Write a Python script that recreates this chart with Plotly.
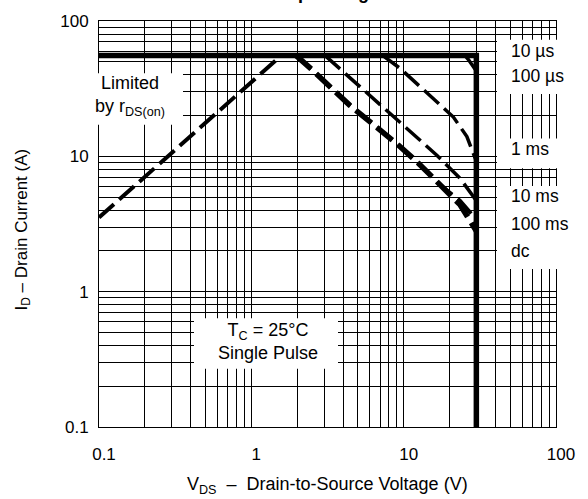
import plotly.graph_objects as go

# ---------------- data ----------------
x_tick_vals = [0.1, 1, 10, 100]
x_tick_text = ["0.1", "1", "10", "100"]
y_tick_vals = [0.1, 1, 10, 100]
y_tick_text = ["0.1", "1", "10", "100"]

rds_v = [0.1, 1.57]
rds_i = [3.53, 55.5]

us10_v = [0.1, 30, 30]
us10_i = [55.5, 55.5, 0.1]

us100_v = [25.3, 26.6, 30]
us100_i = [55.5, 51.9, 42.7]

ms1_v = [7.3, 9.47, 15.3, 21.2, 26.0, 30]
ms1_i = [55.5, 44.7, 27.3, 19.5, 14.0, 9.2]

ms10_v = [3.05, 5.73, 8.56, 11.9, 16.5, 23.4, 30]
ms10_i = [55.5, 29.6, 20.0, 14.3, 10.2, 6.9, 4.7]

ms100_v = [1.97, 2.49, 4.45, 6.49, 9.01, 12.5, 17.8, 23.4, 30]
ms100_i = [55.5, 43.9, 23.7, 16.9, 12.4, 8.9, 6.0, 4.7, 3.4]

dc_v = [1.97, 2.49, 4.45, 6.49, 9.01, 12.5, 17.8, 23.4, 30]
dc_i = [55.5, 43.9, 23.7, 16.9, 12.4, 8.9, 6.0, 4.4, 2.8]

curve_labels = ["10 \u00b5s", "100 \u00b5s", "1 ms", "10 ms", "100 ms", "dc"]

FONT = "Liberation Sans, Arial, Helvetica, sans-serif"

# minor log gridlines 2..9 in each decade
minor_vals = [k * 10 ** e for e in (-1, 0, 1) for k in range(2, 10)]

fig = go.Figure()

def add(v, i, width, dash):
    fig.add_trace(go.Scatter(x=v, y=i, mode="lines",
                             line=dict(color="black", width=width, dash=dash),
                             hoverinfo="skip", showlegend=False))

add(rds_v, rds_i, 4, "20px,7px")
add(dc_v, dc_i, 5.5, "20px,7px")
add(ms100_v, ms100_i, 4, "20px,7px")
add(ms10_v, ms10_i, 3.5, "20px,7px")
add(ms1_v, ms1_i, 3.5, "20px,7px")
add(us100_v, us100_i, 3.5, "20px,7px")
add(us10_v, us10_i, 5.5, "solid")

# plot area in pixels: x 99..556, y 16..427
L, R, T, B = 99, 556, 16, 427
W, H = R - L, B - T

def px(x):
    return (x - L) / W

def py(y):
    return (B - y) / H

# white label backgrounds covering the grid
boxes = [
    (497, 562, 35, 90),
    (497, 562, 135, 165),
    (497, 562, 183, 267),
    (86, 183, 69, 121),
    (194, 338, 317, 368),
]
for x0, x1, y0, y1 in boxes:
    fig.add_shape(type="rect", xref="paper", yref="paper",
                  x0=px(x0), x1=px(x1), y0=py(y1), y1=py(y0),
                  fillcolor="white", line=dict(width=0), layer="above")

label_y = [46, 72, 146, 193.5, 221, 248.5]
for lab, yy in zip(curve_labels, label_y):
    fig.add_annotation(text=lab, xref="paper", yref="paper",
                       x=px(509), y=py(yy), xanchor="left", yanchor="middle",
                       showarrow=False, font=dict(family=FONT, size=17.5, color="black"))

fig.add_annotation(text="Limited<br>by r<sub>DS(on)</sub>", xref="paper", yref="paper",
                   x=px(130), y=py(92), xanchor="center", yanchor="middle", align="center",
                   showarrow=False, font=dict(family=FONT, size=18, color="black"))

fig.add_annotation(text="T<sub>C</sub> = 25\u00b0C<br>Single Pulse", xref="paper", yref="paper",
                   x=px(268), y=py(340), xanchor="center", yanchor="middle", align="center",
                   showarrow=False, font=dict(family=FONT, size=18, color="black"))

# axis titles
fig.add_annotation(text="V<sub>DS</sub>\u00a0\u00a0\u2013\u00a0\u00a0Drain-to-Source Voltage (V)",
                   xref="paper", yref="paper", x=px(327), y=py(486),
                   xanchor="center", yanchor="middle", showarrow=False,
                   font=dict(family=FONT, size=18, color="black"))
fig.add_annotation(text="I<sub>D</sub>\u00a0\u2013\u00a0Drain Current (A)",
                   xref="paper", yref="paper", x=px(23), y=py(227),
                   xanchor="center", yanchor="middle", textangle=-90, showarrow=False,
                   font=dict(family=FONT, size=17, color="black"))

# chart title (mostly cut off at the top, as in the reference)
fig.add_annotation(text="<b>Safe Operating Area</b>", xref="paper", yref="paper",
                   x=0.5, y=1, xanchor="center", yanchor="bottom", yshift=16,
                   showarrow=False, font=dict(family=FONT, size=18, color="black"))

axis_common = dict(type="log", showgrid=True, gridcolor="black", gridwidth=1,
                   showline=True, linecolor="black", linewidth=1, mirror=True,
                   ticks="", zeroline=False,
                   tickfont=dict(family=FONT, size=17, color="black"))

fig.update_xaxes(range=[-1, 2], tickmode="array", tickvals=x_tick_vals, ticktext=x_tick_text,
                 minor=dict(tickmode="array", tickvals=minor_vals, showgrid=True,
                            gridcolor="black", gridwidth=1, ticks=""),
                 ticklabelstandoff=12, ticklabelshift=5, **axis_common)
fig.update_yaxes(range=[-1, 2], tickmode="array", tickvals=y_tick_vals, ticktext=y_tick_text,
                 minor=dict(tickmode="array", tickvals=minor_vals, showgrid=True,
                            gridcolor="black", gridwidth=1, ticks=""),
                 ticklabelstandoff=6, **axis_common)

fig.update_layout(width=588, height=499,
                  margin=dict(l=L, r=588 - R, t=T, b=499 - B),
                  paper_bgcolor="white", plot_bgcolor="white",
                  showlegend=False,
                  font=dict(family=FONT, size=17, color="black"))

fig.write_html("out.html", config={"displayModeBar": False},
               post_script="document.body.style.margin='0px';document.body.style.overflow='hidden';")
